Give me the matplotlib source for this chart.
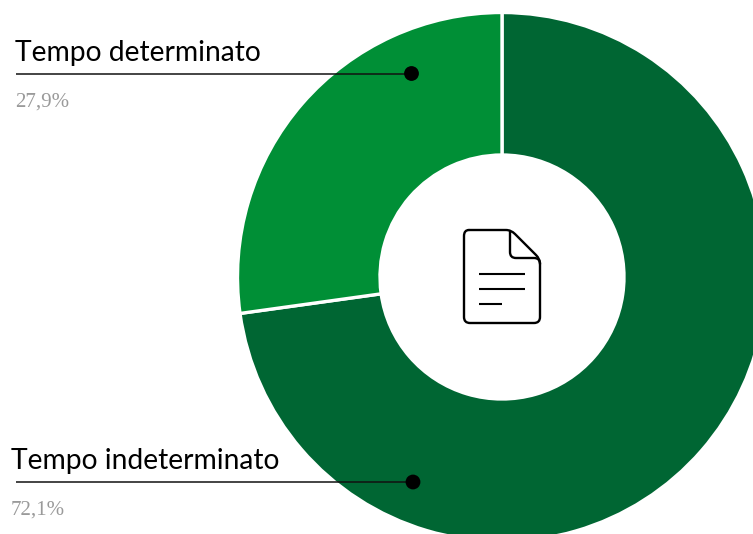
import matplotlib
matplotlib.use("Agg")
import matplotlib.pyplot as plt
from matplotlib.patches import PathPatch, Circle
from matplotlib.path import Path

categories = ["Tempo indeterminato", "Tempo determinato"]
printed_labels = ["72,1%", "27,9%"]
# Shares as actually drawn in the reference (the boundary sits about 98 deg from the top),
# which differ slightly from the printed labels.
drawn_shares = [72.8, 27.2]
colors = ["#006633", "#008f36"]

W, H = 753, 534
fig = plt.figure(figsize=(W / 100, H / 100), dpi=100, facecolor="white")
ax = fig.add_axes([0, 0, 1, 1])
ax.set_xlim(0, W)
ax.set_ylim(H, 0)
ax.axis("off")

cx, cy, R, r = 502, 277, 264.5, 122
# y axis is inverted, so angles run clockwise on screen with counterclock=True
ax.pie(drawn_shares, colors=colors, center=(cx, cy), radius=R, startangle=-90,
       counterclock=True, frame=True,
       wedgeprops=dict(width=R - r, edgecolor="white", linewidth=2.4))
ax.set_xlim(0, W)
ax.set_ylim(H, 0)
ax.set_aspect("auto")
ax.axis("off")

# centre document icon
ic = dict(fc="none", ec="black", lw=1.7, capstyle="round", joinstyle="round")
V, L, C = Path.MOVETO, Path.LINETO, Path.CURVE3
body = Path(
    [(469, 230), (506, 230), (511, 230), (515, 234), (536, 255), (540, 259), (540, 264),
     (540, 317), (540, 323), (534, 323), (470, 323), (464, 323), (464, 317),
     (464, 236), (464, 230), (469, 230)],
    [V, L, C, C, L, C, C, L, C, C, L, C, C, L, C, C])
fold = Path(
    [(510, 231), (510, 252), (510, 258), (516, 258), (534, 258), (540, 258), (540, 264)],
    [V, L, C, C, L, C, C])
ax.add_patch(PathPatch(body, **ic))
ax.add_patch(PathPatch(fold, **ic))
for y0, x1 in [(273.5, 525), (289, 525), (304, 502)]:
    ax.plot([479, x1], [y0, y0], color="black", lw=1.5, solid_capstyle="butt")

# callouts
label_pos = [(11, 461, 16, 482, 413, 11, 510), (15, 53, 16, 73.5, 411.5, 15, 102)]
for name, pct, (tx, ty, lx0, ly, lx1, px, py) in zip(categories, printed_labels, label_pos):
    ax.text(tx, ty, name, family="Lato", fontsize=20.3, color="#000000", va="center", ha="left")
    ax.plot([lx0, lx1], [ly, ly], color="#111111", lw=1.1, solid_capstyle="butt")
    ax.add_patch(Circle((lx1, ly), 7.4, fc="black", ec="none", zorder=5))
    ax.text(px, py, pct, family="Liberation Serif", fontsize=15, color="#9a9a9a",
            va="center", ha="left")

fig.savefig("out.png", dpi=100, facecolor="white")
